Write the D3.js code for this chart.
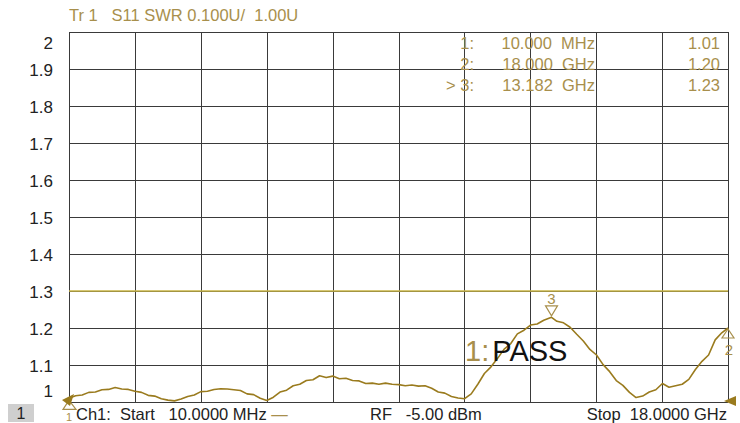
<!DOCTYPE html>
<html>
<head>
<meta charset="utf-8">
<script src="https://cdn.jsdelivr.net/npm/d3@7"></script>
<style>
  body { margin: 0; background: #fff; }
  text { font-family: "Liberation Sans", Arial, sans-serif; }
</style>
</head>
<body>
<div class="chart"></div>
<script>
// S11 SWR trace, 10 MHz .. 18 GHz, 0.18 GHz steps
const freqGHz = [
  0.01, 0.19, 0.37, 0.55, 0.73, 0.91, 1.09, 1.27, 1.45, 1.63,
  1.81, 1.99, 2.17, 2.35, 2.53, 2.71, 2.89, 3.07, 3.25, 3.43,
  3.61, 3.79, 3.97, 4.15, 4.33, 4.51, 4.69, 4.87, 5.05, 5.23,
  5.41, 5.59, 5.77, 5.95, 6.13, 6.31, 6.49, 6.67, 6.85, 7.03,
  7.21, 7.39, 7.57, 7.75, 7.93, 8.11, 8.29, 8.47, 8.65, 8.83,
  9.01, 9.19, 9.37, 9.55, 9.73, 9.91, 10.09, 10.27, 10.45, 10.63,
  10.81, 10.99, 11.17, 11.35, 11.53, 11.71, 11.89, 12.07, 12.25, 12.43,
  12.61, 12.79, 12.97, 13.182, 13.33, 13.51, 13.69, 13.87, 14.05, 14.23,
  14.41, 14.59, 14.77, 14.95, 15.13, 15.31, 15.49, 15.67, 15.85, 16.03,
  16.21, 16.39, 16.57, 16.75, 16.93, 17.11, 17.29, 17.47, 17.65, 17.83,
  18.0
];
const swr = [
  1.010, 1.017, 1.019, 1.026, 1.027, 1.033, 1.034, 1.039, 1.035, 1.034,
  1.029, 1.026, 1.018, 1.016, 1.009, 1.005, 1.003, 1.008, 1.015, 1.019,
  1.028, 1.029, 1.034, 1.036, 1.035, 1.033, 1.031, 1.022, 1.020, 1.010,
  1.004, 1.013, 1.027, 1.032, 1.044, 1.048, 1.058, 1.060, 1.071, 1.066,
  1.070, 1.063, 1.064, 1.058, 1.057, 1.050, 1.051, 1.048, 1.051, 1.048,
  1.047, 1.044, 1.046, 1.043, 1.044, 1.037, 1.027, 1.024, 1.015, 1.011,
  1.009, 1.022, 1.048, 1.077, 1.095, 1.118, 1.143, 1.158, 1.184, 1.194,
  1.208, 1.211, 1.221, 1.229, 1.218, 1.214, 1.202, 1.183, 1.165, 1.142,
  1.127, 1.101, 1.082, 1.058, 1.045, 1.026, 1.012, 1.016, 1.027, 1.033,
  1.050, 1.040, 1.044, 1.048, 1.061, 1.088, 1.110, 1.127, 1.168, 1.187,
  1.200
];

const yTicks = [1, 1.1, 1.2, 1.3, 1.4, 1.5, 1.6, 1.7, 1.8, 1.9, 2];
const limitSWR = 1.3;

const markerIds = ['1:', '2:', '> 3:'];
const markerFreqLabels = ['10.000  MHz', '18.000  GHz', '13.182  GHz'];
const markerValueLabels = ['1.01', '1.20', '1.23'];
const markerFreqs = [0.01, 18.0, 13.182];
const markerValues = [1.01, 1.20, 1.23];

const titleText = 'Tr 1   S11 SWR 0.100U/  1.00U';

const w = 740;
const h = 423;
const padL = 69;
const padR = 728;
const padT = 32;
const padB = 402;

const gold = '#a88f4c';
const traceColor = '#9a7b1e';

const svg = d3
  .select('.chart')
  .append('svg')
  .attr('width', w)
  .attr('height', h);

const xScale = d3.scaleLinear().domain([0.01, 18]).range([padL, padR]);
const yScale = d3.scaleLinear().domain([1, 2]).range([padB, padT]);

// vertical grid: 10 divisions
const xGrid = d3.range(11).map((i) => 0.01 + (i * (18 - 0.01)) / 10);
svg
  .append('g')
  .selectAll('line')
  .data(xGrid)
  .enter()
  .append('line')
  .attr('x1', (d) => Math.round(xScale(d)) + 0.5)
  .attr('x2', (d) => Math.round(xScale(d)) + 0.5)
  .attr('y1', padT)
  .attr('y2', padB)
  .attr('stroke', '#3a3a3a')
  .attr('stroke-width', 1);

// y axis + horizontal grid
const yAxis = d3
  .axisLeft(yScale)
  .tickValues(yTicks)
  .tickSize(-(padR - padL))
  .tickPadding(16)
  .tickFormat((d) => d3.format('')(+d.toFixed(1)));

const yG = svg
  .append('g')
  .attr('transform', `translate(${padL},0)`)
  .call(yAxis);
yG.select('.domain').remove();
yG.selectAll('.tick line').attr('stroke', '#3a3a3a').attr('shape-rendering', 'crispEdges');
yG.selectAll('.tick text')
  .attr('fill', '#222')
  .style('font-size', '17px')
  .attr('dy', (d) => (d === 2 ? '0.95em' : d === 1 ? '-0.3em' : '0.4em'));

// limit line
svg
  .append('line')
  .attr('x1', padL)
  .attr('x2', padR)
  .attr('y1', yScale(limitSWR))
  .attr('y2', yScale(limitSWR))
  .attr('stroke', '#c9b544')
  .attr('stroke-width', 1.5);

// trace
const line = d3
  .line()
  .x((d, i) => xScale(freqGHz[i]))
  .y((d) => yScale(d));

svg
  .append('path')
  .datum(swr)
  .attr('d', line)
  .attr('fill', 'none')
  .attr('stroke', traceColor)
  .attr('stroke-width', 1.6)
  .attr('stroke-linejoin', 'round');

// title
svg
  .append('text')
  .attr('x', padL)
  .attr('y', 21)
  .attr('fill', gold)
  .style('font-size', '16.5px')
  .style('white-space', 'pre')
  .text(titleText);

// marker table
const mt = svg.append('g').style('font-size', '16.5px').attr('fill', gold);
markerIds.forEach((m, i) => {
  const y = 49 + i * 21;
  mt.append('text').attr('x', 474).attr('y', y).attr('text-anchor', 'end').text(m);
  mt.append('text')
    .attr('x', 595)
    .attr('y', y)
    .attr('text-anchor', 'end')
    .style('white-space', 'pre')
    .text(markerFreqLabels[i]);
  mt.append('text').attr('x', 720).attr('y', y).attr('text-anchor', 'end').text(markerValueLabels[i]);
});

// marker symbols
const mk = svg.append('g').attr('fill', 'none').attr('stroke', gold).attr('stroke-width', 1.2);
// marker 3: inverted triangle above trace
const m3x = xScale(markerFreqs[2]);
const m3y = yScale(markerValues[2]);
mk.append('path').attr('d', `M${m3x - 6},${m3y - 11}L${m3x + 6},${m3y - 11}L${m3x},${m3y - 1}Z`);
svg.append('text').attr('x', m3x).attr('y', m3y - 13).attr('text-anchor', 'middle')
  .attr('fill', gold).style('font-size', '15px').text('3');
// marker 2: triangle below trace at right
const m2x = xScale(markerFreqs[1]);
const m2y = yScale(markerValues[1]);
mk.append('path').attr('d', `M${m2x},${m2y + 1}L${m2x + 6},${m2y + 10}L${m2x - 6},${m2y + 10}Z`);
svg.append('text').attr('x', m2x + 1).attr('y', m2y + 27).attr('text-anchor', 'middle')
  .attr('fill', gold).style('font-size', '15px').text('2');
// marker 1: triangle at start
const m1x = xScale(markerFreqs[0]);
const m1y = yScale(markerValues[0]);
mk.append('path').attr('d', `M${m1x},${m1y + 2}L${m1x + 7},${m1y + 11}L${m1x - 6},${m1y + 11}Z`);
// reference arrows
svg.append('path')
  .attr('d', `M${padL - 7},${padB - 2}L${padL + 5},${padB - 8}L${padL + 1},${padB + 4}Z`)
  .attr('fill', traceColor);
svg.append('path')
  .attr('d', `M${padR - 4},${padB - 1}L${padR + 8},${padB - 6}L${padR + 8},${padB + 4}Z`)
  .attr('fill', traceColor);

// PASS label
const pass = svg.append('text').attr('x', 465).attr('y', 361).style('font-size', '29px');
pass.append('tspan').attr('fill', gold).text('1:');
pass.append('tspan').attr('fill', '#111').attr('dx', 3).text('PASS');

// footer
svg.append('rect').attr('x', 8).attr('y', 404).attr('width', 26).attr('height', 18).attr('fill', '#cfcfcf');
svg.append('text').attr('x', 21).attr('y', 419).attr('text-anchor', 'middle')
  .attr('fill', '#222').style('font-size', '16px').text('1');

const foot = svg.append('g').style('font-size', '16.5px').attr('fill', '#222');
foot.append('text').attr('x', 66).attr('y', 421).attr('fill', gold).style('font-size', '11px').text('1');
const ch = foot.append('text').attr('x', 76).attr('y', 420).style('white-space', 'pre');
ch.append('tspan').text('Ch1:  Start   10.0000 MHz ');
ch.append('tspan').attr('fill', gold).text('\u2014');
foot.append('text').attr('x', 370).attr('y', 420).style('white-space', 'pre').text('RF   -5.00 dBm');
foot.append('text').attr('x', 727).attr('y', 420).attr('text-anchor', 'end')
  .style('white-space', 'pre').text('Stop  18.0000 GHz');
</script>
</body>
</html>
